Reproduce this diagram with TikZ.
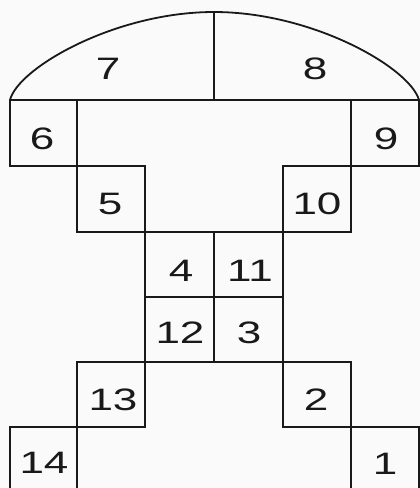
\documentclass[tikz,border=0pt]{standalone}
\usepackage{fontspec}
\setmainfont{Liberation Sans}[FakeStretch=1.42]
\begin{document}
\begin{tikzpicture}[x=1pt,y=-1pt,line width=1.8pt,line join=miter,
  cellbox/.style={draw=black!90},
  lab/.style={font=\fontsize{31}{31}\selectfont, text=black!90, inner sep=0pt}]
\useasboundingbox (0,0) rectangle (420,488);
\fill[black!2] (0,0) rectangle (420,488);
% dome
\draw[black!90] (10,100) .. controls (18,68) and (115,12) .. (214,12)
      .. controls (313,12) and (410,68) .. (419,100);
\draw[black!90] (10,100) -- (419,100);
\draw[black!90] (214,12) -- (214,100);
\node[lab] (n7) at (108,69) {7};
\node[lab] (n8) at (315,69) {8};
% cells
\draw[cellbox] (10,100) rectangle (77,166);  \node[lab] (n6) at (42,139) {6};
\draw[cellbox] (351,100) rectangle (419,166); \node[lab] (n9) at (386,139) {9};
\draw[cellbox] (77,166) rectangle (145,232);  \node[lab] (n5) at (110,204) {5};
\draw[cellbox] (283,166) rectangle (351,232); \node[lab] (n10) at (317,204) {10};
\draw[cellbox] (145,232) rectangle (214,297); \node[lab] (n4) at (181,271) {4};
\draw[cellbox] (214,232) rectangle (283,297); \node[lab] (n11) at (250,271) {11};
\draw[cellbox] (145,297) rectangle (214,362); \node[lab] (n12) at (180,333) {12};
\draw[cellbox] (214,297) rectangle (283,362); \node[lab] (n3) at (249,333) {3};
\draw[cellbox] (77,362) rectangle (145,427);  \node[lab] (n13) at (113,400) {13};
\draw[cellbox] (283,362) rectangle (351,427); \node[lab] (n2) at (316,400) {2};
\draw[cellbox] (10,427) rectangle (77,495);   \node[lab] (n14) at (44,463) {14};
\draw[cellbox] (351,427) rectangle (419,495); \node[lab] (n1) at (385,464) {1};
\end{tikzpicture}
\end{document}
